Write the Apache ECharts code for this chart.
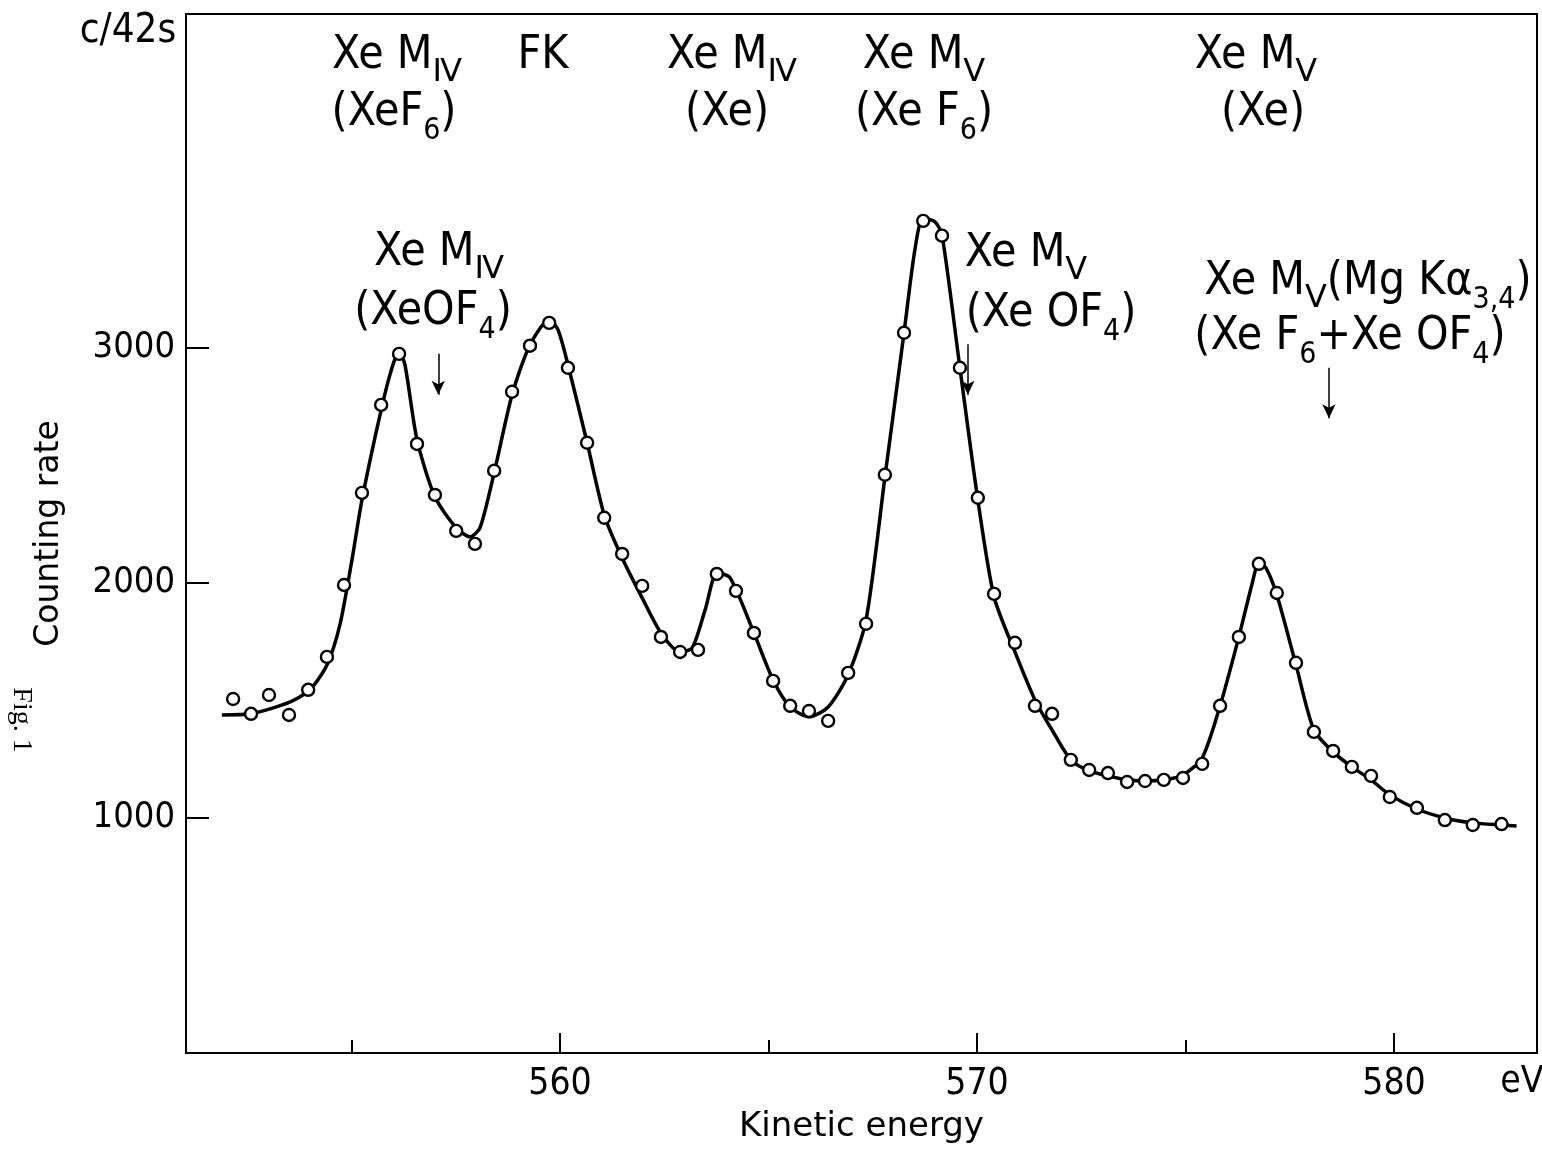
<!DOCTYPE html>
<html><head><meta charset="utf-8">
<script src="https://cdn.jsdelivr.net/npm/echarts@6/dist/echarts.min.js"></script>
<style>html,body{margin:0;padding:0;background:#fff}#c{width:1542px;height:1156px}</style>
</head><body><div id="c"></div>
<script>
// measured points (kinetic energy eV, counts per 42 s)
const pointX = [552.16,552.59,553.02,553.50,553.96,554.41,554.82,555.25,555.71,556.14,556.57,557.00,557.51,557.96,558.42,558.85,559.28,559.74,560.19,560.65,561.06,561.49,561.97,562.42,562.88,563.31,563.76,564.22,564.65,565.11,565.52,565.97,566.43,566.91,567.34,567.79,568.25,568.71,569.16,569.59,570.02,570.41,570.91,571.39,571.80,572.25,572.69,573.14,573.60,574.03,574.48,574.94,575.40,575.83,576.28,576.76,577.19,577.65,578.08,578.54,578.99,579.45,579.90,580.55,581.22,581.89,582.58];
const pointY = [1506,1443,1523,1438,1545,1685,1991,2383,2757,2974,2591,2374,2221,2166,2477,2813,3009,3106,2915,2596,2277,2123,1987,1770,1706,1715,2038,1966,1787,1583,1477,1455,1413,1617,1826,2460,3064,3540,3477,2915,2362,1953,1745,1477,1443,1247,1204,1191,1153,1157,1162,1170,1230,1477,1770,2081,1957,1660,1366,1285,1217,1179,1089,1043,991,970,974];
// hand-drawn fitted curve
const curveX = [551.89,552.59,553.53,554.00,554.41,554.72,555.01,555.25,555.71,555.97,556.14,556.28,556.57,557.00,557.51,557.84,558.08,558.42,558.85,559.28,559.74,559.95,560.19,560.65,561.06,561.49,561.97,562.42,562.88,563.17,563.48,563.77,564.08,564.65,565.11,565.52,565.97,566.43,566.91,567.34,567.79,568.25,568.51,568.71,568.99,569.16,569.59,570.02,570.41,570.91,571.39,571.80,572.25,572.69,573.14,573.60,574.03,574.48,574.94,575.40,575.83,576.28,576.59,576.76,576.93,577.19,577.65,578.08,578.54,578.99,579.45,579.90,580.55,581.22,581.89,582.58,582.94];
const curveY = [1438,1443,1494,1545,1651,1821,2098,2353,2736,2915,2983,2928,2609,2366,2234,2196,2234,2468,2800,3013,3119,3077,2928,2596,2289,2106,1936,1787,1706,1723,1885,2043,2021,1787,1587,1472,1430,1472,1609,1843,2447,3064,3417,3553,3536,3481,2915,2353,1940,1706,1502,1374,1247,1200,1179,1162,1157,1162,1183,1255,1477,1770,1991,2085,2064,1949,1651,1374,1281,1217,1162,1098,1038,1000,979,970,966];
const xMajorTicks = [560, 570, 580];
const xMinorTicks = [555, 565, 575];
const yTicks = [1000, 2000, 3000];
// arrows: [x, yStart, yEnd]
const arrows = [[557.08, 2975, 2800], [569.78, 3015, 2800], [578.44, 2915, 2700]];

const F = '"DejaVu Sans Condensed", "DejaVu Sans", sans-serif';
const F2 = '"DejaVu Sans", sans-serif';
const chart = echarts.init(document.getElementById('c'), null, {renderer: 'canvas'});

const richStyles = {
  b: {fontSize: 46, fontFamily: F, lineHeight: 56, verticalAlign: 'top', fill: '#000'},
  s: {fontSize: 30, fontFamily: F, lineHeight: 24, verticalAlign: 'bottom', fill: '#000'},
  r: {fontSize: 32, fontFamily: F2, lineHeight: 24, verticalAlign: 'bottom', fill: '#000'}
};
function ann(x, y, text) {
  return {type: 'text', x: x, y: y, silent: true,
    style: {text: text, rich: richStyles, align: 'center', verticalAlign: 'top', fill: '#000', fontFamily: F, fontSize: 46}};
}

const graphics = [
  ann(397, 33, '{b|Xe M}{r|Ⅳ}'),
  ann(394, 90, '{b|(XeF}{s|6}{b|)}'),
  ann(543, 33, '{b|FK}'),
  ann(732, 33, '{b|Xe M}{r|Ⅳ}'),
  ann(727, 90, '{b|(Xe)}'),
  ann(924, 33, '{b|Xe M}{r|Ⅴ}'),
  ann(924, 90, '{b|(Xe F}{s|6}{b|)}'),
  ann(1256, 33, '{b|Xe M}{r|Ⅴ}'),
  ann(1263, 90, '{b|(Xe)}'),
  ann(439, 230, '{b|Xe M}{r|Ⅳ}'),
  ann(433, 289, '{b|(XeOF}{s|4}{b|)}'),
  ann(1026, 231, '{b|Xe M}{r|Ⅴ}'),
  ann(1051, 291, '{b|(Xe OF}{s|4}{b|)}'),
  ann(1368, 259, '{b|Xe M}{r|Ⅴ}{b|(Mg Kα}{s|3,4}{b|)}'),
  ann(1350, 314, '{b|(Xe F}{s|6}{b|+Xe OF}{s|4}{b|)}'),
  {type: 'text', x: 128, y: 32, silent: true, style: {text: 'c/42s', fontSize: 40, fontFamily: F, fill: '#000', align: 'center', verticalAlign: 'middle'}},
  {type: 'text', x: 1522, y: 1082, silent: true, style: {text: 'eV', fontSize: 37, fontFamily: F, fill: '#000', align: 'center', verticalAlign: 'middle'}},
  {type: 'text', x: 21, y: 720, rotation: -Math.PI / 2, silent: true, style: {text: 'Fig. 1', fontSize: 28, fontFamily: '"Liberation Serif", "DejaVu Serif", serif', fill: '#000', align: 'center', verticalAlign: 'middle'}}
];

const axisCommon = {
  type: 'value', min: 551.03, max: 583.43, position: 'bottom',
  splitLine: {show: false}
};
const plain = v => String(Math.round(v));

chart.setOption({
  backgroundColor: '#fff',
  animation: false,
  grid: {left: 186, right: 5, top: 14, bottom: 103, show: true, borderColor: '#000', borderWidth: 2, backgroundColor: 'transparent'},
  xAxis: [
    Object.assign({}, axisCommon, {
      axisLine: {show: true, lineStyle: {color: '#000', width: 2}},
      axisTick: {show: true, inside: true, length: 20, customValues: xMajorTicks, lineStyle: {color: '#000', width: 2}},
      axisLabel: {show: true, customValues: xMajorTicks, formatter: plain, fontSize: 37, fontFamily: F, color: '#000', margin: 13},
      name: 'Kinetic energy', nameLocation: 'middle', nameGap: 57,
      nameTextStyle: {fontSize: 34, fontFamily: F2, color: '#000'}
    }),
    Object.assign({}, axisCommon, {
      axisLine: {show: false},
      axisTick: {show: true, inside: true, length: 13, customValues: xMinorTicks, lineStyle: {color: '#000', width: 2}},
      axisLabel: {show: false}
    })
  ],
  yAxis: {
    type: 'value', min: 0, max: 4420,
    axisLine: {show: true, lineStyle: {color: '#000', width: 2}},
    axisTick: {show: true, inside: true, length: 23, customValues: yTicks, lineStyle: {color: '#000', width: 2}},
    axisLabel: {show: true, customValues: yTicks, formatter: plain, fontSize: 36, fontFamily: F, color: '#000', margin: 11},
    splitLine: {show: false},
    name: 'Counting rate', nameLocation: 'middle', nameGap: 120, nameRotate: 90,
    nameTextStyle: {fontSize: 33, fontFamily: F2, color: '#000'}
  },
  series: [
    {
      type: 'line', name: 'fit', xAxisIndex: 0,
      data: curveX.map((x, i) => [x, curveY[i]]),
      smooth: 0.25, showSymbol: false, symbol: 'none',
      lineStyle: {color: '#000', width: 3.5},
      z: 2,
      markLine: {
        silent: true, symbol: ['none', 'arrow'], symbolSize: [10, 14],
        label: {show: false},
        lineStyle: {color: '#000', width: 1.5, type: 'solid'},
        data: arrows.map(a => [{coord: [a[0], a[1]]}, {coord: [a[0], a[2]]}])
      }
    },
    {
      type: 'scatter', name: 'measured', xAxisIndex: 0,
      data: pointX.map((x, i) => [x, pointY[i]]),
      symbol: 'circle', symbolSize: 12,
      itemStyle: {color: '#fff', borderColor: '#000', borderWidth: 2.4, opacity: 1},
      z: 3
    }
  ],
  graphic: graphics
});
</script>
</body></html>
